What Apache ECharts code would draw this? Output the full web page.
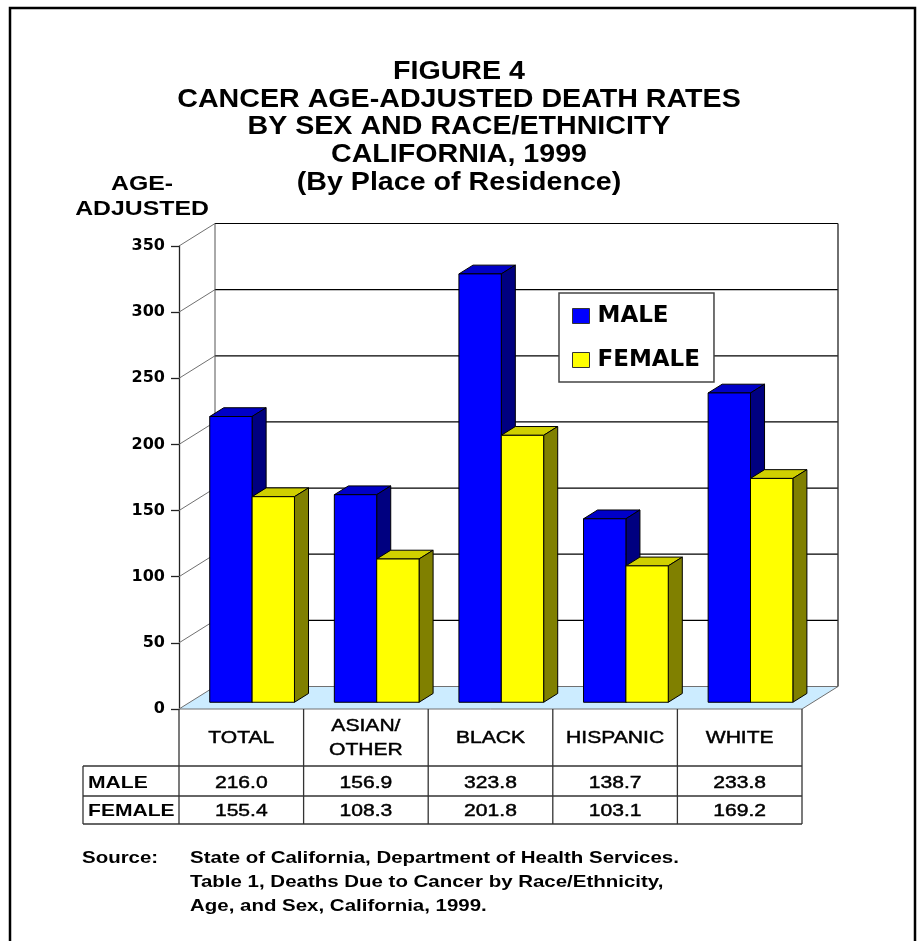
<!DOCTYPE html>
<html>
<head>
<meta charset="utf-8">
<script src="https://cdn.jsdelivr.net/npm/echarts/dist/echarts.min.js"></script>
<style>
  html, body { margin: 0; padding: 0; background: #fff; }
  #main { width: 919px; height: 941px; }
</style>
</head>
<body>
<div id="main"></div>
<script>
// Cancer age-adjusted death rates, California 1999
const categories = ['TOTAL', 'ASIAN/\nOTHER', 'BLACK', 'HISPANIC', 'WHITE'];
const maleRates = [216.0, 156.9, 323.8, 138.7, 233.8];
const femaleRates = [155.4, 108.3, 201.8, 103.1, 169.2];
const seriesNames = ['MALE', 'FEMALE'];
const yTicks = [0, 50, 100, 150, 200, 250, 300, 350];
const titleLines = [
  'FIGURE 4',
  'CANCER AGE-ADJUSTED DEATH RATES',
  'BY SEX AND RACE/ETHNICITY',
  'CALIFORNIA, 1999',
  '(By Place of Residence)'
];
const yNameLines = ['AGE-', 'ADJUSTED'];
const sourceLabel = 'Source:';
const sourceLines = [
  'State of California, Department of Health Services.',
  'Table 1, Deaths Due to Cancer by Race/Ethnicity,',
  'Age, and Sex, California, 1999.'
];

// pseudo-3D projection: depth 1 moves a point right and up by this much
const DX = 36, DY = 22.5;
const BAR_Z0 = 0.3, BAR_Z1 = 0.69;   // front / back depth of the bars
const BAR_FRAC = 0.34;               // width of one bar as share of a category
const STRETCH = 1.24;                // horizontal text stretch
const FONT = '"Liberation Sans", Arial, sans-serif';

const barColors = [
  { front: '#0000ff', top: '#0000c8', side: '#000080' },
  { front: '#ffff00', top: '#d0d000', side: '#808000' }
];

// table rows below the floor, as offsets from the zero line
const ROW_HEADER_END = 57, ROW_MALE_END = 87, ROW_FEMALE_END = 115;
const TABLE_LEFT = 83;

function stretchedText(x, y, text, font, align, stretch, lineHeight, outline) {
  const style = {
    text: text, font: font, fill: '#000',
    align: align, textAlign: align,
    verticalAlign: 'middle', textVerticalAlign: 'middle'
  };
  if (lineHeight) style.lineHeight = lineHeight;
  if (outline) { style.stroke = '#000'; style.lineWidth = outline; }
  return { type: 'text', x: x, y: y, scaleX: stretch || STRETCH, style: style };
}

function plotEdges(api) {
  const catW = api.size([1, 0])[0];
  const first = api.coord([0, 0]);
  const last = api.coord([categories.length - 1, 0]);
  return { left: first[0] - catW / 2, right: last[0] + catW / 2, zero: first[1], catW: catW };
}

// walls, floor and depth lines of the chart box
function renderFrame(params, api) {
  const v = api.value(1);
  const e = plotEdges(api);
  const y = api.coord([0, v])[1];
  const children = [];
  if (v === 0) {
    children.push({
      type: 'polygon',
      shape: { points: [[e.left, y], [e.left + DX, y - DY], [e.right + DX, y - DY], [e.right, y]] },
      style: { fill: '#ccecff', stroke: '#707070', lineWidth: 1 }
    });
  } else {
    children.push({
      type: 'line',
      shape: { x1: e.left + DX, y1: y - DY, x2: e.right + DX, y2: y - DY },
      style: { stroke: '#000', lineWidth: 1.2 }
    });
    children.push({
      type: 'line',
      shape: { x1: e.left, y1: y, x2: e.left + DX, y2: y - DY },
      style: { stroke: '#707070', lineWidth: 1 }
    });
  }
  if (v === yTicks[yTicks.length - 1]) {
    [e.left + DX, e.right + DX].forEach(function (x, k) {
      children.push({
        type: 'line',
        shape: { x1: x, y1: y - DY, x2: x, y2: e.zero - DY },
        style: { stroke: k === 0 ? '#555' : '#333', lineWidth: k === 0 ? 1 : 1.4 }
      });
    });
  }
  return { type: 'group', children: children };
}

function barRenderer(side) {
  const c = barColors[side];
  return function (params, api) {
    const i = api.value(0), v = api.value(1);
    const base = api.coord([i, 0]);
    const top = api.coord([i, v]);
    const w = api.size([1, 0])[0] * BAR_FRAC;
    const x0 = side === 0 ? base[0] - w : base[0];
    const x1 = x0 + w;
    const ax = DX * BAR_Z0, ay = DY * BAR_Z0, bx = DX * BAR_Z1, by = DY * BAR_Z1;
    const yb = base[1], yt = top[1];
    const edge = { stroke: '#000', lineWidth: 1, lineJoin: 'miter' };
    return {
      type: 'group',
      children: [
        { type: 'polygon',
          shape: { points: [[x0 + ax, yt - ay], [x1 + ax, yt - ay], [x1 + bx, yt - by], [x0 + bx, yt - by]] },
          style: Object.assign({ fill: c.top }, edge) },
        { type: 'polygon',
          shape: { points: [[x1 + ax, yt - ay], [x1 + bx, yt - by], [x1 + bx, yb - by], [x1 + ax, yb - ay]] },
          style: Object.assign({ fill: c.side }, edge) },
        { type: 'rect',
          shape: { x: x0 + ax, y: yt - ay, width: w, height: yb - yt },
          style: Object.assign({ fill: c.front }, edge) }
      ]
    };
  };
}

// data table under the floor: one column per category
function renderTable(params, api) {
  const i = api.value(0);
  const e = plotEdges(api);
  const xc = api.coord([i, 0])[0];
  const y0 = e.zero;
  const bottom = y0 + ROW_FEMALE_END;
  const line = { stroke: '#333', lineWidth: 1.3 };
  const valFont = '17px ' + FONT;
  const children = [
    { type: 'line', shape: { x1: xc + e.catW / 2, y1: y0, x2: xc + e.catW / 2, y2: bottom }, style: line },
    stretchedText(xc, y0 + 29, categories[i], valFont, 'center', STRETCH, 24, 0.45),
    stretchedText(xc, y0 + 74, maleRates[i].toFixed(1), valFont, 'center', STRETCH, 0, 0.45),
    stretchedText(xc, y0 + 102, femaleRates[i].toFixed(1), valFont, 'center', STRETCH, 0, 0.45)
  ];
  if (i === 0) {
    const bold = 'bold 17px ' + FONT;
    [ROW_HEADER_END, ROW_MALE_END, ROW_FEMALE_END].forEach(function (r) {
      children.push({ type: 'line', shape: { x1: TABLE_LEFT, y1: y0 + r, x2: e.right, y2: y0 + r }, style: line });
    });
    children.push({ type: 'line', shape: { x1: TABLE_LEFT, y1: y0 + ROW_HEADER_END, x2: TABLE_LEFT, y2: bottom }, style: line });
    children.push({ type: 'line', shape: { x1: e.left, y1: y0, x2: e.left, y2: bottom }, style: line });
    children.push(stretchedText(TABLE_LEFT + 5, y0 + 74, seriesNames[0], bold, 'left'));
    children.push(stretchedText(TABLE_LEFT + 5, y0 + 102, seriesNames[1], bold, 'left'));
  }
  return { type: 'group', children: children };
}

const graphics = [
  { type: 'rect', shape: { x: 10, y: 8, width: 905, height: 960 },
    style: { fill: 'none', stroke: '#000', lineWidth: 2.5 }, z: 100 }
];
titleLines.forEach(function (t, k) {
  graphics.push(stretchedText(459, 72 + k * 27.7, t, 'bold 25px ' + FONT, 'center', 1.145));
});
yNameLines.forEach(function (t, k) {
  graphics.push(stretchedText(142, 184 + k * 25, t, 'bold 20px ' + FONT, 'center'));
});
graphics.push(stretchedText(82, 858, sourceLabel, 'bold 16.5px ' + FONT, 'left'));
sourceLines.forEach(function (t, k) {
  graphics.push(stretchedText(190, 858 + k * 24, t, 'bold 16.5px ' + FONT, 'left'));
});

const chart = echarts.init(document.getElementById('main'), null, { renderer: 'canvas' });
chart.setOption({
  backgroundColor: '#fff',
  animation: false,
  grid: { left: 179, top: 246, width: 623, height: 463, containLabel: false },
  xAxis: { type: 'category', data: categories, show: false },
  yAxis: {
    type: 'value', min: 0, max: 350, interval: 50,
    axisLine: { show: true, lineStyle: { color: '#222', width: 1.3 } },
    axisTick: { show: true, length: 8, lineStyle: { color: '#222', width: 1.3 } },
    axisLabel: { margin: 14, color: '#000', fontFamily: '"DejaVu Sans", sans-serif', fontWeight: 'bold', fontSize: 16 },
    splitLine: { show: false }
  },
  legend: {
    data: seriesNames, orient: 'vertical', left: 559, top: 293,
    padding: [11, 14, 10, 13], itemGap: 20, itemWidth: 17, itemHeight: 15,
    icon: 'rect', selectedMode: false,
    backgroundColor: '#fff', borderColor: '#444', borderWidth: 1.5,
    itemStyle: { borderColor: '#333', borderWidth: 1 },
    textStyle: { color: '#000', fontFamily: '"DejaVu Sans", sans-serif', fontWeight: 'bold', fontSize: 23, lineHeight: 24, padding: [0, 0, 0, 3] }
  },
  graphic: graphics,
  series: [
    { type: 'custom', name: 'frame', renderItem: renderFrame, silent: true,
      data: yTicks.map(function (v) { return [0, v]; }), z: 1 },
    { type: 'custom', name: seriesNames[0], renderItem: barRenderer(0),
      itemStyle: { color: barColors[0].front },
      data: maleRates.map(function (v, i) { return [i, v]; }), z: 2 },
    { type: 'custom', name: seriesNames[1], renderItem: barRenderer(1),
      itemStyle: { color: barColors[1].front },
      data: femaleRates.map(function (v, i) { return [i, v]; }), z: 2 },
    { type: 'custom', name: 'table', renderItem: renderTable, silent: true,
      data: categories.map(function (c, i) { return [i, 0]; }), z: 2 }
  ]
});
</script>
</body>
</html>
